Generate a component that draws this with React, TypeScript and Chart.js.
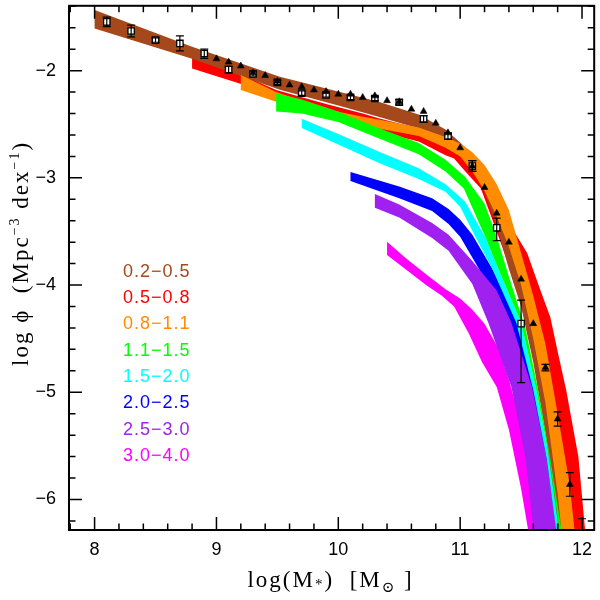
import React, { useEffect, useRef } from 'react';
import { Chart, registerables } from 'chart.js';

Chart.register(...registerables);

type Pt = [number, number];

// Redshift bins (categories) and their colours
const zBins = ['0.2\u22120.5', '0.5\u22120.8', '0.8\u22121.1', '1.1\u22121.5', '1.5\u22122.0', '2.0\u22122.5', '2.5\u22123.0', '3.0\u22124.0'];
const zColors = ['#A5481B', '#FF0000', '#FF8C00', '#00FF00', '#00FFFF', '#0000FF', '#A020F0', '#FF00FF'];

// Band edges: [log M*, log phi]
const brownUpper: Pt[] = [[8.0, -1.435], [8.8, -1.777], [9.52, -2.056], [10.33, -2.29], [10.66, -2.41], [10.88, -2.55], [11.0, -2.67], [11.1, -2.78], [11.2, -2.92], [11.3, -3.12], [11.4, -3.38], [11.5, -3.75], [11.6, -4.2], [11.7, -4.7], [11.8, -5.3], [11.9, -6.0], [11.93, -6.6]];
const brownLower: Pt[] = [[8.0, -1.607], [8.8, -1.89], [9.52, -2.177], [10.0, -2.326], [10.33, -2.43], [10.66, -2.54], [10.88, -2.64], [11.0, -2.78], [11.1, -2.93], [11.2, -3.13], [11.3, -3.45], [11.4, -3.85], [11.5, -4.2], [11.6, -4.72], [11.7, -5.38], [11.8, -6.2], [11.83, -6.6]];

const redUpper: Pt[] = [[8.8, -1.85], [9.19, -2.03], [9.49, -2.18], [9.9, -2.31], [10.2, -2.4], [10.33, -2.445], [10.66, -2.54], [10.9, -2.64], [11.1, -2.78], [11.3, -3.08], [11.4, -3.42], [11.55, -3.7], [11.64, -3.99], [11.74, -4.3], [11.8, -4.62], [11.87, -4.98], [11.97, -5.6], [12.023, -6.254], [12.045, -6.6]];
const redLower: Pt[] = [[8.8, -1.98], [9.19, -2.12], [9.5, -2.23], [10.0, -2.4], [10.33, -2.57], [10.66, -2.66], [10.88, -2.79], [10.95, -2.82], [11.05, -2.95], [11.17, -3.1], [11.3, -3.5], [11.4, -3.82], [11.5, -4.15], [11.6, -4.65], [11.7, -5.3], [11.8, -6.1], [11.84, -6.6]];

const orangeUpper: Pt[] = [[9.2, -2.04], [9.49, -2.2], [9.9, -2.36], [10.2, -2.43], [10.33, -2.455], [10.66, -2.53], [10.88, -2.62], [11.0, -2.68], [11.1, -2.76], [11.2, -2.88], [11.3, -3.06], [11.4, -3.3], [11.5, -3.7], [11.6, -4.1], [11.7, -4.55], [11.8, -5.2], [11.9, -5.87], [11.94, -6.3], [11.96, -6.6]];
const orangeLower: Pt[] = [[9.2, -2.18], [9.49, -2.29], [9.9, -2.42], [10.33, -2.54], [10.66, -2.61], [10.88, -2.72], [11.0, -2.8], [11.1, -2.94], [11.2, -3.12], [11.3, -3.36], [11.4, -3.64], [11.5, -4.0], [11.6, -4.5], [11.7, -5.1], [11.8, -5.95], [11.86, -6.6]];

const greenUpper: Pt[] = [[9.49, -2.21], [9.7, -2.27], [10.0, -2.38], [10.33, -2.536], [10.66, -2.676], [10.88, -2.83], [11.04, -2.99], [11.2, -3.24], [11.3, -3.55], [11.4, -3.92], [11.535, -4.4], [11.64, -4.98], [11.74, -5.62], [11.83, -6.27], [11.86, -6.6]];
const greenLower: Pt[] = [[9.49, -2.38], [9.7, -2.4], [10.0, -2.48], [10.33, -2.63], [10.66, -2.78], [10.88, -2.94], [11.03, -3.1], [11.21, -3.56], [11.31, -3.84], [11.5, -4.35], [11.62, -4.95], [11.73, -5.6], [11.81, -6.25], [11.84, -6.6]];

const cyanUpper: Pt[] = [[9.7, -2.449], [10.0, -2.59], [10.33, -2.753], [10.66, -2.91], [10.88, -3.06], [11.04, -3.22], [11.21, -3.56], [11.31, -3.84], [11.5, -4.35], [11.62, -4.95], [11.73, -5.6], [11.81, -6.25], [11.84, -6.6]];
const cyanLower: Pt[] = [[9.7, -2.536], [10.0, -2.69], [10.33, -2.86], [10.66, -3.01], [10.88, -3.13], [11.0, -3.27], [11.13, -3.56], [11.26, -3.84], [11.46, -4.35], [11.6, -4.98], [11.71, -5.62], [11.79, -6.3], [11.82, -6.6]];

const blueUpper: Pt[] = [[10.1, -2.945], [10.5, -3.08], [10.77, -3.19], [10.905, -3.29], [11.0, -3.39], [11.1, -3.53], [11.26, -3.84], [11.38, -4.1], [11.48, -4.35], [11.6, -4.95], [11.72, -5.6], [11.8, -6.25], [11.83, -6.6]];
const blueLower: Pt[] = [[10.1, -3.03], [10.5, -3.19], [10.77, -3.31], [10.905, -3.43], [11.0, -3.55], [11.15, -3.84], [11.3, -4.2], [11.4, -4.45], [11.5, -4.85], [11.6, -5.35], [11.7, -5.95], [11.77, -6.6]];

const purpleUpper: Pt[] = [[10.3, -3.15], [10.5, -3.248], [10.77, -3.42], [10.905, -3.53], [11.1, -3.775], [11.3, -4.05], [11.42, -4.35], [11.59, -4.95], [11.707, -5.603], [11.788, -6.254], [11.82, -6.6]];
const purpleLower: Pt[] = [[10.3, -3.28], [10.5, -3.37], [10.77, -3.56], [10.905, -3.68], [11.1, -3.99], [11.232, -4.354], [11.42, -4.95], [11.535, -5.603], [11.6, -6.254], [11.63, -6.6]];

const magentaUpper: Pt[] = [[10.4, -3.595], [10.55, -3.745], [10.72, -3.9], [10.88, -4.04], [11.0, -4.125], [11.1, -4.23], [11.2, -4.36], [11.31, -4.58], [11.4, -4.88], [11.5, -5.3], [11.6, -5.8], [11.7, -6.4], [11.73, -6.6]];
const magentaLower: Pt[] = [[10.4, -3.72], [10.55, -3.85], [10.72, -4.0], [10.85, -4.1], [10.95, -4.2], [11.07, -4.45], [11.18, -4.72], [11.3, -4.95], [11.4, -5.35], [11.5, -5.9], [11.56, -6.3], [11.6, -6.6]];

const bandUppers = [brownUpper, redUpper, orangeUpper, greenUpper, cyanUpper, blueUpper, purpleUpper, magentaUpper];
const bandLowers = [brownLower, redLower, orangeLower, greenLower, cyanLower, blueLower, purpleLower, magentaLower];

// Local data points: filled triangles
const triX = [9.0, 9.1, 9.2, 9.3, 9.4, 9.5, 9.6, 9.7, 9.8, 9.9, 10.0, 10.1, 10.2, 10.3, 10.4, 10.5, 10.6, 10.7, 10.8, 10.9, 11.0, 11.1, 11.2, 11.3, 11.4, 11.5, 11.6, 11.7, 11.8, 11.9, 12.0];
const triY = [-1.89, -1.92, -1.957, -2.02, -2.046, -2.1, -2.133, -2.15, -2.18, -2.195, -2.22, -2.22, -2.25, -2.235, -2.28, -2.29, -2.36, -2.38, -2.49, -2.58, -2.72, -2.89, -3.09, -3.33, -3.6, -3.945, -4.36, -4.77, -5.25, -5.86, -6.33];
const triErr = [0, 0, 0, 0, 0, 0, 0, 0, 0, 0, 0, 0, 0, 0, 0, 0, 0, 0, 0, 0, 0, 0.05, 0, 0, 0, 0, 0, 0.03, 0.066, 0.11, 0.15];

// Open squares with error bars
const sqX = [8.1, 8.3, 8.5, 8.7, 8.9, 9.1, 9.3, 9.5, 9.7, 9.9, 10.1, 10.3, 10.5, 10.7, 10.9, 11.1, 11.3, 11.5];
const sqY = [-1.545, -1.63, -1.715, -1.746, -1.84, -1.99, -2.03, -2.11, -2.21, -2.226, -2.25, -2.26, -2.295, -2.45, -2.61, -2.89, -3.466, -4.36];
const sqErrUp = [0.045, 0.055, 0.02, 0.07, 0.04, 0.03, 0.02, 0.02, 0.02, 0.02, 0.02, 0.02, 0.025, 0.03, 0.03, 0.05, 0.09, 0.22];
const sqErrDown = [0.045, 0.055, 0.02, 0.07, 0.045, 0.03, 0.02, 0.02, 0.02, 0.02, 0.02, 0.02, 0.025, 0.03, 0.03, 0.05, 0.12, 0.55];

// Axis ticks
const xTicks = [8, 9, 10, 11, 12];
const yTicks = [-6, -5, -4, -3, -2];

const SANS = "'Liberation Sans', Arial, Helvetica, sans-serif";
const SERIF = "'Liberation Serif', 'Times New Roman', 'DejaVu Serif', serif";
// higher value = drawn earlier (further back)
const DRAW_ORDER = [4, 5, 3, 2, 6, 8, 7, 9];

type Run = { t: string; size: number; dy: number };

function runsWidth(ctx: CanvasRenderingContext2D, runs: Run[]) {
  let w = 0;
  for (const r of runs) {
    ctx.font = `${r.size}px ${SERIF}`;
    w += ctx.measureText(r.t).width;
  }
  return w;
}
function drawRuns(ctx: CanvasRenderingContext2D, runs: Run[], x0: number, y0: number) {
  let x = x0;
  for (const r of runs) {
    ctx.font = `${r.size}px ${SERIF}`;
    ctx.fillText(r.t, x, y0 + r.dy);
    x += ctx.measureText(r.t).width;
  }
}

const frameTicksPlugin = {
  id: 'frameTicks',
  afterDatasetsDraw(chart: any) {
    const { ctx, chartArea: a, scales } = chart;
    const xs = scales.x;
    const ys = scales.y;
    ctx.save();
    ctx.strokeStyle = '#000';
    ctx.lineWidth = 1.5;
    ctx.beginPath();
    for (let k = Math.ceil(xs.min * 5); k <= Math.floor(xs.max * 5); k++) {
      const major = k % 5 === 0;
      const len = major ? 13 : 6.5;
      const px = xs.getPixelForValue(k / 5);
      ctx.moveTo(px, a.bottom); ctx.lineTo(px, a.bottom - len);
      ctx.moveTo(px, a.top); ctx.lineTo(px, a.top + len);
    }
    for (let k = Math.ceil(ys.min * 5); k <= Math.floor(ys.max * 5); k++) {
      const major = k % 5 === 0;
      const len = major ? 13 : 6.5;
      const py = ys.getPixelForValue(k / 5);
      ctx.moveTo(a.left, py); ctx.lineTo(a.left + len, py);
      ctx.moveTo(a.right, py); ctx.lineTo(a.right - len, py);
    }
    ctx.stroke();
    ctx.lineWidth = 2;
    ctx.strokeRect(a.left, a.top, a.right - a.left, a.bottom - a.top);
    ctx.restore();
  },
};

const errorBarPlugin = {
  id: 'errorBars',
  afterDatasetsDraw(chart: any) {
    const { ctx, chartArea: a, scales } = chart;
    const xs = scales.x;
    const ys = scales.y;
    ctx.save();
    ctx.beginPath();
    ctx.rect(a.left, a.top, a.right - a.left, a.bottom - a.top);
    ctx.clip();
    ctx.strokeStyle = '#000';
    ctx.lineWidth = 1.2;
    const bar = (x: number, lo: number, hi: number) => {
      const px = xs.getPixelForValue(x);
      const p1 = ys.getPixelForValue(lo);
      const p2 = ys.getPixelForValue(hi);
      ctx.beginPath();
      ctx.moveTo(px, p1); ctx.lineTo(px, p2);
      ctx.moveTo(px - 4, p1); ctx.lineTo(px + 4, p1);
      ctx.moveTo(px - 4, p2); ctx.lineTo(px + 4, p2);
      ctx.stroke();
    };
    sqX.forEach((x, i) => bar(x, sqY[i] - sqErrDown[i], sqY[i] + sqErrUp[i]));
    triX.forEach((x, i) => { if (triErr[i] > 0) bar(x, triY[i] - triErr[i], triY[i] + triErr[i]); });
    ctx.restore();
  },
};

const textPlugin = {
  id: 'texts',
  afterDraw(chart: any) {
    const { ctx, chartArea: a } = chart;
    ctx.save();
    ctx.textAlign = 'left';
    ctx.textBaseline = 'alphabetic';
    (ctx as any).letterSpacing = '1px';
    ctx.font = `18px ${SANS}`;
    zBins.forEach((lab, i) => {
      ctx.fillStyle = zColors[i];
      ctx.fillText(lab, a.left + 54, a.top + 271 + i * 26.3);
    });
    ctx.fillStyle = '#000';
    (ctx as any).letterSpacing = '2px';
    const xRuns: Run[] = [
      { t: 'log(M', size: 23, dy: 0 },
      { t: '*', size: 15, dy: 2 },
      { t: ')  [M', size: 23, dy: 0 },
      { t: '\u2299', size: 15, dy: 5 },
      { t: ' ]', size: 23, dy: 0 },
    ];
    const wx = runsWidth(ctx, xRuns);
    drawRuns(ctx, xRuns, (a.left + a.right) / 2 - 1 - wx / 2, a.bottom + 57);
    const yRuns: Run[] = [
      { t: 'log \u03D5  (Mpc', size: 23, dy: 0 },
      { t: '\u22123', size: 14, dy: -9 },
      { t: ' dex', size: 23, dy: 0 },
      { t: '\u22121', size: 14, dy: -9 },
      { t: ')', size: 23, dy: 0 },
    ];
    const wy = runsWidth(ctx, yRuns);
    ctx.translate(28, (a.top + a.bottom) / 2 - 14.5);
    ctx.rotate(-Math.PI / 2);
    drawRuns(ctx, yRuns, -wy / 2, 0);
    ctx.restore();
  },
};

export default function App() {
  const ref = useRef<HTMLCanvasElement | null>(null);
  useEffect(() => {
    if (!ref.current) return;
    const bandSets = bandUppers.map((up, i) => ({
      type: 'line' as const,
      label: zBins[i],
      data: [...up, ...bandLowers[i].slice().reverse()].map(([x, y]) => ({ x, y })),
      backgroundColor: zColors[i],
      borderColor: zColors[i],
      borderWidth: 0,
      pointRadius: 0,
      tension: 0,
      fill: 'shape' as any,
      order: DRAW_ORDER[i],
    }));
    const chart = new Chart(ref.current, {
      type: 'scatter',
      data: {
        datasets: [
          {
            type: 'scatter',
            label: 'squares',
            data: sqX.map((x, i) => ({ x, y: sqY[i] })),
            pointStyle: 'rect',
            pointRadius: 4.5,
            backgroundColor: '#fff',
            borderColor: '#000',
            borderWidth: 1.3,
            order: 0,
          },
          {
            type: 'scatter',
            label: 'triangles',
            data: triX.map((x, i) => ({ x, y: triY[i] })),
            pointStyle: 'triangle',
            pointRadius: 4,
            backgroundColor: '#000',
            borderColor: '#000',
            borderWidth: 0.5,
            order: -1,
          },
          ...bandSets,
        ] as any,
      },
      options: {
        animation: false,
        responsive: false,
        events: [],
        layout: { padding: { top: 4, right: 4, left: 0, bottom: 0 } },
        plugins: { legend: { display: false }, tooltip: { enabled: false } },
        scales: {
          x: {
            type: 'linear',
            min: 7.79,
            max: 12.1,
            afterFit: (s: any) => { s.height = 70; s.paddingLeft = 0; s.paddingRight = 0; s.paddingTop = 0; s.paddingBottom = 0; },
            grid: { display: false, drawTicks: false },
            border: { display: false },
            afterBuildTicks: (s: any) => { s.ticks = xTicks.map((v) => ({ value: v })); },
            ticks: {
              padding: 9,
              color: '#000',
              autoSkip: false,
              maxRotation: 0,
              font: { family: SANS, size: 18 },
              callback: (v: any) => String(v),
            },
          },
          y: {
            type: 'linear',
            min: -6.285,
            max: -1.395,
            afterFit: (s: any) => { s.width = 69; s.paddingTop = 0; s.paddingBottom = 0; s.paddingLeft = 0; s.paddingRight = 0; },
            grid: { display: false, drawTicks: false },
            border: { display: false },
            afterBuildTicks: (s: any) => { s.ticks = yTicks.map((v) => ({ value: v })); },
            ticks: {
              padding: 13,
              color: '#000',
              autoSkip: false,
              font: { family: SANS, size: 18 },
              callback: (v: any) => (v < 0 ? '\u2212' + Math.abs(v) : String(v)),
            },
          },
        },
      } as any,
      plugins: [frameTicksPlugin, errorBarPlugin, textPlugin],
    });
    return () => chart.destroy();
  }, []);
  return (
    <div style={{ position: 'fixed', left: 0, top: 0, width: 600, height: 600, background: '#fff' }}>
      <canvas ref={ref} width={600} height={600} style={{ display: 'block' }} />
    </div>
  );
}
